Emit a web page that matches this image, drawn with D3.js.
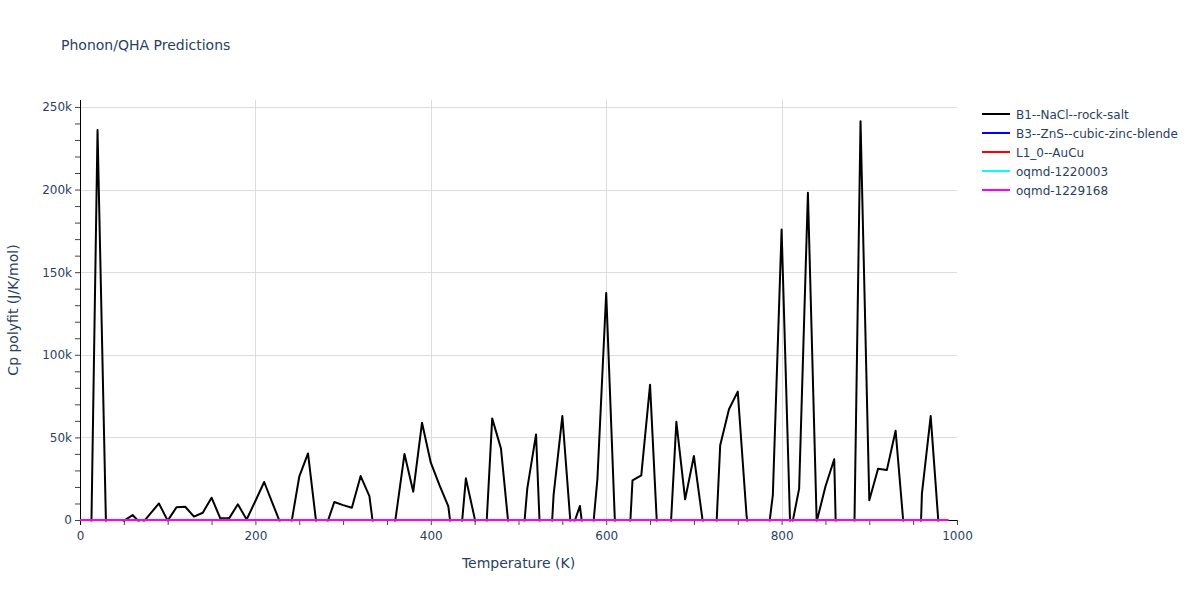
<!DOCTYPE html>
<html>
<head>
<meta charset="utf-8">
<script src="https://cdn.jsdelivr.net/npm/d3@7"></script>
<style>
  html, body { margin: 0; padding: 0; background: #fff; }
  svg { display: block; font-family: "DejaVu Sans", Verdana, sans-serif; }
</style>
</head>
<body>
<svg id="chart" width="1200" height="600"></svg>
<script>
// ---------- data ----------
const temperatures = [0,10,20,30,40,50,60,70,80,90,100,110,120,130,140,150,160,170,180,190,
  200,210,220,230,240,250,260,270,280,290,300,310,320,330,340,350,360,370,380,390,
  400,410,420,430,440,450,460,470,480,490,500,510,520,530,540,550,560,570,580,590,
  600,610,620,630,640,650,660,670,680,690,700,710,720,730,740,750,760,770,780,790,
  800,810,820,830,840,850,860,870,880,890,900,910,920,930,940,950,960,970,980,990];

const cpRockSalt = [-50000,-105000,236000,-12000,-20000,-500,3000,-2600,3700,10000,
  -400,7700,8000,2000,4400,13500,1000,1000,9500,300,
  11500,23000,9500,-4000,-5000,26200,40300,-4500,-4700,10900,
  9000,7400,26600,14500,-27000,-28500,1500,40000,17100,58900,
  34700,21000,8200,-35000,25200,1000,-37700,61500,43300,-10800,
  -44000,19000,51800,-80000,15000,62900,-7000,8500,-34000,25000,
  137400,-2000,-76000,24000,27000,81800,-25800,-39700,59400,12500,
  38700,-500,-68000,45300,67000,77700,3000,-40000,-27900,15000,
  175800,-8000,19000,198000,-1000,20300,36800,-192000,-110000,241400,
  12000,31000,30200,54000,-8800,-150000,16000,62900,-10200,-50000];

const cpZero = [0,0,0,0,0,0,0,0,0,0, 0,0,0,0,0,0,0,0,0,0, 0,0,0,0,0,0,0,0,0,0,
  0,0,0,0,0,0,0,0,0,0, 0,0,0,0,0,0,0,0,0,0, 0,0,0,0,0,0,0,0,0,0,
  0,0,0,0,0,0,0,0,0,0, 0,0,0,0,0,0,0,0,0,0, 0,0,0,0,0,0,0,0,0,0,
  0,0,0,0,0,0,0,0,0,0];

const seriesNames = ["B1--NaCl--rock-salt", "B3--ZnS--cubic-zinc-blende", "L1_0--AuCu", "oqmd-1220003", "oqmd-1229168"];
const seriesColors = ["#000000", "#0000ff", "#ff0000", "#00ffff", "#ff00ff"];
const seriesValues = [cpRockSalt, cpZero, cpZero, cpZero, cpZero];

const xTicks = [0, 200, 400, 600, 800, 1000];
const xMinorTicks = [50,100,150,250,300,350,450,500,550,650,700,750,850,900,950];
const yTicks = [0, 50000, 100000, 150000, 200000, 250000];
const yTickLabels = ["0", "50k", "100k", "150k", "200k", "250k"];
const yMinorTicks = [10000,20000,30000,40000,60000,70000,80000,90000,110000,120000,130000,140000,
  160000,170000,180000,190000,210000,220000,230000,240000];

// ---------- layout ----------
const W = 1200, H = 600;
const m = { left: 80, right: 243, top: 100, bottom: 80 };
const pw = W - m.left - m.right, ph = H - m.top - m.bottom;
const textColor = "#2a3f5f";
const fontFam = '"DejaVu Sans", Verdana, sans-serif';

const svg = d3.select("#chart");
const x = d3.scaleLinear().domain([0, 1000]).range([m.left, m.left + pw]);
const y = d3.scaleLinear().domain([0, 254200]).range([m.top + ph, m.top]);

svg.append("defs").append("clipPath").attr("id", "clip")
  .append("rect").attr("x", m.left).attr("y", m.top).attr("width", pw).attr("height", ph + 1.5);

// grid
const grid = svg.append("g");
grid.selectAll("line.gx").data(xTicks.filter(d => d > 0 && d < 1000)).join("line")
  .attr("x1", d => Math.round(x(d)) + 0.5).attr("x2", d => Math.round(x(d)) + 0.5)
  .attr("y1", m.top).attr("y2", m.top + ph)
  .attr("stroke", "#dddddd").attr("stroke-width", 1);
grid.selectAll("line.gy").data(yTicks.filter(d => d > 0)).join("line")
  .attr("y1", d => Math.round(y(d)) + 0.5).attr("y2", d => Math.round(y(d)) + 0.5)
  .attr("x1", m.left).attr("x2", m.left + pw)
  .attr("stroke", "#dddddd").attr("stroke-width", 1);

// axes
const xAxis = d3.axisBottom(x).tickValues(xTicks).tickSize(5).tickPadding(6).tickFormat(d3.format("d"));
const gx = svg.append("g").attr("transform", `translate(0,${m.top + ph})`).call(xAxis);
const gxm = svg.append("g").attr("transform", `translate(0,${m.top + ph})`)
  .call(d3.axisBottom(x).tickValues(xMinorTicks).tickSize(5).tickFormat(""));
gxm.select(".domain").remove();

const yAxis = d3.axisLeft(y).tickValues(yTicks).tickSize(5).tickPadding(3)
  .tickFormat((d, i) => yTickLabels[i]);
const gy = svg.append("g").attr("transform", `translate(${m.left},0)`).call(yAxis);
const gym = svg.append("g").attr("transform", `translate(${m.left},0)`)
  .call(d3.axisLeft(y).tickValues(yMinorTicks).tickSize(5).tickFormat(""));
gym.select(".domain").remove();

[gx, gy].forEach(g => {
  g.select(".domain").attr("stroke", "#000").attr("stroke-width", 1);
  g.selectAll("text").attr("fill", textColor).style("font-size", "12px")
    .style("font-family", fontFam);
});
[gx, gxm, gy, gym].forEach(g => g.selectAll(".tick line").attr("stroke", "#444"));
gy.select(".domain").attr("d", `M0.5,${m.top}V${m.top + ph + 5}`);
gx.select(".domain").attr("d", `M${m.left},0.5H${m.left + pw}`);

// lines
const line = d3.line().x((d, i) => x(temperatures[i])).y(d => y(d));
const lines = svg.append("g").attr("clip-path", "url(#clip)");
seriesValues.forEach((vals, s) => {
  lines.append("path").datum(vals)
    .attr("d", line)
    .attr("fill", "none")
    .attr("stroke", seriesColors[s])
    .attr("stroke-width", 2)
    .attr("stroke-linejoin", "round");
});

// titles
svg.append("text").attr("x", 61).attr("y", 50)
  .attr("fill", textColor).style("font-size", "14px").text("Phonon/QHA Predictions");
svg.append("text").attr("x", m.left + pw / 2).attr("y", 568).attr("text-anchor", "middle")
  .attr("fill", textColor).style("font-size", "14px").text("Temperature (K)");
svg.append("text").attr("transform", `translate(18,${m.top + ph / 2}) rotate(-90)`)
  .attr("text-anchor", "middle")
  .attr("fill", textColor).style("font-size", "14px").text("Cp polyfit (J/K/mol)");

// legend
const lg = svg.append("g").attr("transform", "translate(982,114)");
seriesNames.forEach((name, i) => {
  const row = lg.append("g").attr("transform", `translate(0,${i * 19})`);
  row.append("line").attr("x1", 0).attr("x2", 28).attr("y1", 0).attr("y2", 0)
    .attr("stroke", seriesColors[i]).attr("stroke-width", 2);
  row.append("text").attr("x", 34).attr("y", 4.5).attr("fill", textColor)
    .style("font-size", "12px").text(name);
});
</script>
</body>
</html>
